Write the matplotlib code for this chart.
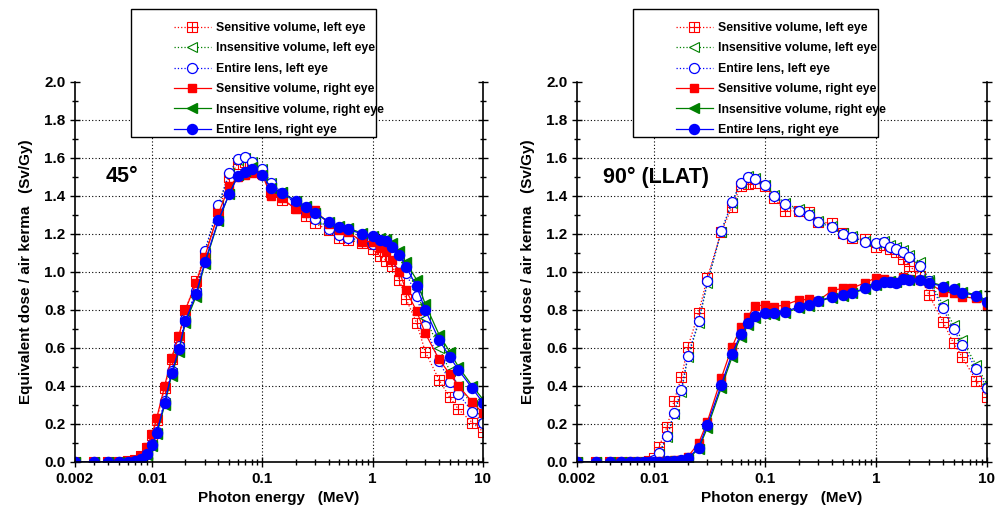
import numpy as np
import matplotlib
matplotlib.use('Agg')
import matplotlib.pyplot as plt
from matplotlib.path import Path
from matplotlib.patches import Rectangle
from matplotlib.ticker import FixedLocator, MultipleLocator, LogLocator, NullFormatter

plt.rcParams['font.family'] = ['Liberation Sans', 'DejaVu Sans']
plt.rcParams['font.weight'] = 'bold'
plt.rcParams['axes.labelweight'] = 'bold'

# photon energies (MeV)
energy = [0.002, 0.003, 0.004, 0.005, 0.006, 0.007, 0.008, 0.009, 0.01, 0.011, 0.013, 0.015,
          0.0175, 0.02, 0.025, 0.03, 0.04, 0.05, 0.06, 0.07, 0.08, 0.1, 0.12, 0.15, 0.2, 0.25,
          0.3, 0.4, 0.5, 0.6, 0.8, 1.0, 1.17, 1.33, 1.5, 1.75, 2.0, 2.5, 3.0, 4.0, 5.0, 6.0, 8.0, 10.0]

# 45 degree irradiation
sens_left_45 = [0, 0, 0, 0, 0.003, 0.01, 0.03, 0.075, 0.14, 0.22, 0.39, 0.54, 0.66, 0.80, 0.95, 1.09,
                1.32, 1.50, 1.57, 1.58, 1.55, 1.52, 1.42, 1.38, 1.335, 1.295, 1.256, 1.22, 1.177, 1.168,
                1.154, 1.12, 1.084, 1.06, 1.03, 0.958, 0.86, 0.733, 0.58, 0.432, 0.34, 0.277, 0.207, 0.16]
insens_left_45 = [0, 0, 0, 0, 0.002, 0.006, 0.016, 0.042, 0.09, 0.155, 0.31, 0.47, 0.60, 0.74, 0.89, 1.10,
                  1.35, 1.52, 1.59, 1.60, 1.58, 1.54, 1.47, 1.42, 1.365, 1.32, 1.28, 1.235, 1.2, 1.19,
                  1.175, 1.16, 1.16, 1.14, 1.12, 1.07, 1.02, 0.91, 0.76, 0.60, 0.48, 0.40, 0.30, 0.22]
lens_left_45 = [0, 0, 0, 0, 0.002, 0.007, 0.018, 0.045, 0.095, 0.16, 0.32, 0.48, 0.61, 0.75, 0.90, 1.11,
                1.353, 1.519, 1.595, 1.607, 1.58, 1.54, 1.47, 1.417, 1.36, 1.317, 1.277, 1.228, 1.195, 1.18,
                1.165, 1.148, 1.14, 1.12, 1.10, 1.046, 0.996, 0.875, 0.716, 0.53, 0.423, 0.358, 0.265, 0.207]
sens_right_45 = [0, 0, 0, 0, 0.003, 0.01, 0.032, 0.077, 0.146, 0.23, 0.40, 0.549, 0.663, 0.80, 0.94, 1.08,
                 1.31, 1.45, 1.50, 1.51, 1.52, 1.51, 1.40, 1.39, 1.33, 1.31, 1.326, 1.253, 1.221, 1.21,
                 1.16, 1.16, 1.125, 1.11, 1.063, 1.0, 0.905, 0.795, 0.677, 0.54, 0.463, 0.40, 0.316, 0.256]
insens_right_45 = [0, 0, 0, 0, 0.002, 0.006, 0.014, 0.038, 0.082, 0.145, 0.30, 0.455, 0.58, 0.73, 0.87, 1.04,
                   1.27, 1.41, 1.51, 1.53, 1.55, 1.51, 1.44, 1.42, 1.375, 1.345, 1.31, 1.265, 1.24, 1.23,
                   1.205, 1.19, 1.18, 1.175, 1.15, 1.11, 1.05, 0.96, 0.83, 0.67, 0.58, 0.50, 0.40, 0.33]
lens_right_45 = [0, 0, 0, 0, 0.002, 0.007, 0.016, 0.042, 0.089, 0.154, 0.312, 0.467, 0.593, 0.742, 0.883, 1.05,
                 1.274, 1.409, 1.505, 1.528, 1.54, 1.51, 1.44, 1.418, 1.374, 1.344, 1.31, 1.265, 1.238, 1.225,
                 1.2, 1.189, 1.168, 1.165, 1.133, 1.089, 1.028, 0.926, 0.80, 0.642, 0.554, 0.484, 0.388, 0.312]

# 90 degree (LLAT) irradiation
sens_left_90 = [0, 0, 0, 0, 0, 0, 0, 0.003, 0.02, 0.08, 0.186, 0.32, 0.445, 0.604, 0.785, 0.97,
                1.21, 1.34, 1.455, 1.463, 1.47, 1.455, 1.39, 1.323, 1.32, 1.317, 1.265, 1.256, 1.204, 1.177,
                1.172, 1.133, 1.14, 1.12, 1.107, 1.067, 1.032, 0.979, 0.879, 0.739, 0.625, 0.551, 0.428, 0.344]
insens_left_90 = [0, 0, 0, 0, 0, 0, 0, 0.001, 0.008, 0.04, 0.13, 0.25, 0.37, 0.55, 0.73, 0.94,
                  1.21, 1.365, 1.47, 1.505, 1.495, 1.46, 1.405, 1.365, 1.33, 1.305, 1.27, 1.24, 1.205, 1.19,
                  1.165, 1.155, 1.165, 1.14, 1.13, 1.115, 1.09, 1.05, 0.96, 0.83, 0.72, 0.64, 0.51, 0.41]
lens_left_90 = [0, 0, 0, 0, 0, 0, 0, 0.001, 0.01, 0.046, 0.137, 0.26, 0.38, 0.558, 0.74, 0.95,
                1.214, 1.366, 1.47, 1.50, 1.49, 1.458, 1.40, 1.36, 1.323, 1.30, 1.262, 1.235, 1.20, 1.183,
                1.16, 1.151, 1.158, 1.133, 1.121, 1.107, 1.077, 1.032, 0.95, 0.809, 0.698, 0.616, 0.489, 0.391]
sens_right_90 = [0, 0, 0, 0, 0, 0, 0, 0, 0.002, 0.003, 0.005, 0.008, 0.012, 0.028, 0.098, 0.212,
                 0.44, 0.604, 0.709, 0.765, 0.821, 0.826, 0.818, 0.826, 0.853, 0.856, 0.849, 0.902, 0.914, 0.914,
                 0.944, 0.97, 0.963, 0.955, 0.949, 0.975, 0.965, 0.958, 0.94, 0.896, 0.888, 0.87, 0.861, 0.826]
insens_right_90 = [0, 0, 0, 0, 0, 0, 0, 0, 0.001, 0.002, 0.004, 0.005, 0.008, 0.016, 0.068, 0.18,
                   0.39, 0.55, 0.66, 0.72, 0.76, 0.78, 0.775, 0.785, 0.81, 0.82, 0.845, 0.865, 0.875, 0.888,
                   0.91, 0.93, 0.945, 0.95, 0.945, 0.962, 0.96, 0.96, 0.948, 0.928, 0.914, 0.896, 0.88, 0.85]
lens_right_90 = [0, 0, 0, 0, 0, 0, 0, 0, 0.001, 0.002, 0.004, 0.006, 0.01, 0.019, 0.075, 0.197,
                 0.405, 0.568, 0.672, 0.73, 0.77, 0.786, 0.782, 0.791, 0.816, 0.826, 0.848, 0.87, 0.879, 0.891,
                 0.914, 0.932, 0.946, 0.949, 0.944, 0.961, 0.958, 0.958, 0.944, 0.923, 0.909, 0.891, 0.875, 0.844]

labels = ['Sensitive volume, left eye', 'Insensitive volume, left eye', 'Entire lens, left eye',
          'Sensitive volume, right eye', 'Insensitive volume, right eye', 'Entire lens, right eye']

# square with a cross inside
boxcross = Path([(-1, -1), (1, -1), (1, 1), (-1, 1), (-1, -1), (-1, 0), (1, 0), (0, -1), (0, 1)],
                [Path.MOVETO, Path.LINETO, Path.LINETO, Path.LINETO, Path.CLOSEPOLY,
                 Path.MOVETO, Path.LINETO, Path.MOVETO, Path.LINETO])

red = '#ff0000'
green = '#008000'
blue = '#0000ff'

W, H = 996, 514


def draw(ax, series, title, tx, box_x0):
    sl, il, ll, sr, ir, lr = series
    ax.plot(energy, sl, ls=':', lw=0.9, color=red, marker=boxcross, ms=6.5, mfc='none', mec=red, mew=0.8,
            label=labels[0])
    ax.plot(energy, il, ls=':', lw=0.9, color=green, marker='<', ms=6.5, mfc='white', mec=green, mew=0.8,
            label=labels[1])
    ax.plot(energy, ll, ls=':', lw=0.9, color=blue, marker='o', ms=7.2, mfc='white', mec=blue, mew=0.9,
            label=labels[2])
    ax.plot(energy, sr, ls='-', lw=0.9, color=red, marker='s', ms=6.2, mfc=red, mec=red, label=labels[3])
    ax.plot(energy, ir, ls='-', lw=0.9, color=green, marker='<', ms=6.5, mfc=green, mec=green, label=labels[4])
    ax.plot(energy, lr, ls='-', lw=0.9, color=blue, marker='o', ms=7.2, mfc=blue, mec=blue, label=labels[5])

    ax.set_xscale('log')
    ax.set_xlim(0.002, 10)
    ax.set_ylim(0, 2.0)
    ax.xaxis.set_major_locator(FixedLocator([0.002, 0.01, 0.1, 1, 10]))
    ax.set_xticklabels(['0.002', '0.01', '0.1', '1', '10'])
    ax.xaxis.set_minor_locator(LogLocator(base=10, subs=np.arange(2, 10), numticks=20))
    ax.xaxis.set_minor_formatter(NullFormatter())
    ax.yaxis.set_major_locator(MultipleLocator(0.2))
    ax.yaxis.set_minor_locator(MultipleLocator(0.1))
    ax.yaxis.set_major_formatter(plt.FormatStrFormatter('%.1f'))
    ax.tick_params(which='major', direction='inout', length=7, width=1, labelsize=11, right=True)
    ax.tick_params(which='minor', direction='inout', length=4, width=1, right=True)
    for lab in ax.get_xticklabels() + ax.get_yticklabels():
        lab.set_fontweight('bold')
    for x in [0.01, 0.1, 1]:
        ax.axvline(x, color='black', ls=(0, (1, 2)), lw=0.8, zorder=0)
    for y in np.arange(0.2, 2.0, 0.2):
        ax.axhline(y, color='black', ls=(0, (1, 2)), lw=0.8, zorder=0)
    ax.spines['top'].set_visible(False)
    for s in ['left', 'right', 'bottom']:
        ax.spines[s].set_linewidth(1.2)
    ax.set_xlabel('Photon energy   (MeV)', fontsize=11, labelpad=4)
    ax.set_ylabel('Equivalent dose / air kerma   (Sv/Gy)', fontsize=11, labelpad=8)
    ax.text(tx, 0.75, title, transform=ax.transAxes, fontsize=15.5, fontweight='bold', va='center')

    # legend box drawn on its own, because the handles sit well inside it
    fig.patches.append(Rectangle((box_x0 / W, 1 - 137 / H), 245 / W, 128 / H, transform=fig.transFigure,
                                 facecolor='white', edgecolor='black', lw=1.0, zorder=3))
    handles, labs = ax.get_legend_handles_labels()
    fig.legend(handles, labs, loc='upper left', bbox_to_anchor=((box_x0 + 43) / W, 1 - 22 / H),
               bbox_transform=fig.transFigure, frameon=False,
               prop={'weight': 'bold', 'size': 8.8},
               handlelength=3.0, handletextpad=0.4, labelspacing=0.69, borderpad=0, borderaxespad=0)


fig = plt.figure(figsize=(9.96, 5.14), dpi=100)
ax1 = fig.add_axes([0.0753, 0.1012, 0.4096, 0.7393])
ax2 = fig.add_axes([0.5793, 0.1012, 0.4116, 0.7393])
draw(ax1, [sens_left_45, insens_left_45, lens_left_45, sens_right_45, insens_right_45, lens_right_45],
     '45°', 0.074, 131)
draw(ax2, [sens_left_90, insens_left_90, lens_left_90, sens_right_90, insens_right_90, lens_right_90],
     '90° (LLAT)', 0.063, 633)
fig.savefig('out.png', dpi=100)
